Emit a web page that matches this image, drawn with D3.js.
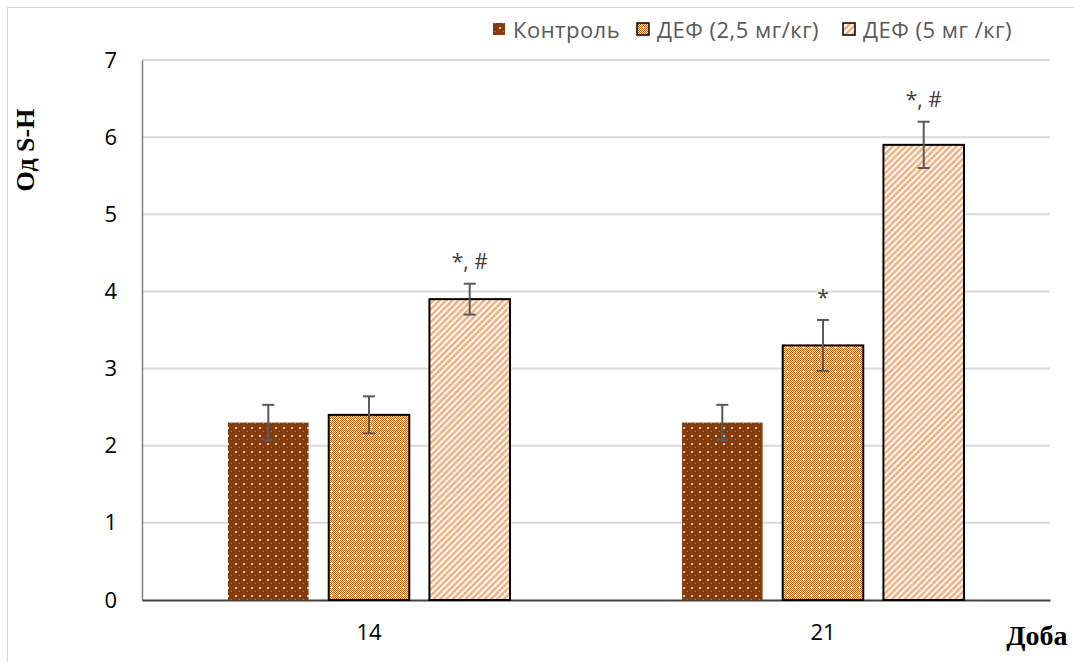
<!DOCTYPE html>
<html><head><meta charset="utf-8">
<script src="https://cdn.jsdelivr.net/npm/d3@7"></script>
<style>body{margin:0;background:#fff}svg{display:block}</style>
</head><body>
<script>
const categories = ["14", "21"];
const seriesNames = ["Контроль", "ДЕФ (2,5 мг/кг)", "ДЕФ (5 мг /кг)"];
const control = [2.3, 2.3];
const def25 = [2.4, 3.3];
const def5 = [3.9, 5.9];
const errControl = [0.23, 0.23];
const errDef25 = [0.24, 0.33];
const errDef5 = [0.2, 0.3];
const notes25 = ["", "*"];
const notes5 = ["*, #", "*, #"];
const yTicks = [0, 1, 2, 3, 4, 5, 6, 7];

const W = 1074, H = 662;
const m = {left: 142, right: 1050, top: 60, bottom: 600};
const svg = d3.select("body").append("svg").attr("width", W).attr("height", H);
const defs = svg.append("defs");

// patterns
const p1 = defs.append("pattern").attr("id", "pCtrl").attr("patternUnits", "userSpaceOnUse")
  .attr("width", 8).attr("height", 8);
p1.append("rect").attr("width", 8).attr("height", 8).attr("fill", "#843C0C");
p1.append("rect").attr("x", 3).attr("y", 3).attr("width", 2).attr("height", 2).attr("fill", "#E3C3AE");
p1.append("rect").attr("x", 7).attr("y", 7).attr("width", 1).attr("height", 1).attr("fill", "#B07858");

const p2 = defs.append("pattern").attr("id", "pDef25").attr("patternUnits", "userSpaceOnUse")
  .attr("width", 8).attr("height", 8);
p2.append("rect").attr("width", 8).attr("height", 8).attr("fill", "#fff");
for (let i = 0; i < 8; i++) for (let j = 0; j < 8; j++) {
  if ((i + j) % 2 === 0) p2.append("rect").attr("x", i).attr("y", j).attr("width", 1).attr("height", 1).attr("fill", "#C55A11");
}
p2.append("rect").attr("x", 2).attr("y", 3).attr("width", 3).attr("height", 1).attr("fill", "#fff");
p2.append("rect").attr("x", 3).attr("y", 2).attr("width", 1).attr("height", 3).attr("fill", "#fff");

const p3 = defs.append("pattern").attr("id", "pDef5").attr("patternUnits", "userSpaceOnUse")
  .attr("width", 4.5).attr("height", 4.5).attr("patternTransform", "rotate(45)");
p3.append("rect").attr("width", 4.5).attr("height", 4.5).attr("fill", "#fff");
p3.append("rect").attr("width", 2.6).attr("height", 4.5).attr("fill", "#F4B183");

// frame
svg.append("rect").attr("x", 7.5).attr("y", 7.5).attr("width", 1100).attr("height", 700)
  .attr("fill", "none").attr("stroke", "#D9D9D9").attr("stroke-width", 1);

const x0 = d3.scaleBand().domain(categories).range([m.left, m.right]).paddingInner(0).paddingOuter(0);
const x1 = d3.scaleBand().domain(seriesNames).range([86, 454 - 86]).paddingInner(0.2).paddingOuter(0);
const y = d3.scaleLinear().domain([0, 7]).range([m.bottom, m.top]);

// gridlines
svg.append("g").selectAll("line").data(yTicks.filter(d => d > 0)).join("line")
  .attr("x1", m.left).attr("x2", m.right)
  .attr("y1", d => y(d)).attr("y2", d => y(d))
  .attr("stroke", "#D9D9D9").attr("stroke-width", 2);

// y axis
const yAxis = svg.append("g").attr("transform", `translate(${m.left},0)`)
  .call(d3.axisLeft(y).tickValues(yTicks).tickFormat(d3.format("d")).tickSize(0).tickPadding(25));
yAxis.select(".domain").attr("stroke", "#7F7F7F").attr("stroke-width", 1.5);
yAxis.selectAll("text").attr("font-family", "Open Sans").attr("font-size", 22).attr("fill", "#000");

// x axis
const xAxis = svg.append("g").attr("transform", `translate(0,${m.bottom})`)
  .call(d3.axisBottom(x0).tickSize(0).tickPadding(24));
xAxis.select(".domain").attr("stroke", "#404040").attr("stroke-width", 2);
xAxis.selectAll("text").attr("font-family", "Open Sans").attr("font-size", 22).attr("fill", "#000");

const series = [
  {name: seriesNames[0], vals: control, errs: errControl, fill: "url(#pCtrl)", stroke: "none", notes: ["", ""]},
  {name: seriesNames[1], vals: def25, errs: errDef25, fill: "url(#pDef25)", stroke: "#000", notes: notes25},
  {name: seriesNames[2], vals: def5, errs: errDef5, fill: "url(#pDef5)", stroke: "#000", notes: notes5}
];

const bars = svg.append("g");
series.forEach(s => {
  categories.forEach((c, i) => {
    const bx = x0(c) + x1(s.name);
    const bw = x1.bandwidth();
    bars.append("rect").attr("x", bx).attr("y", y(s.vals[i]))
      .attr("width", bw).attr("height", y(0) - y(s.vals[i]))
      .attr("fill", s.fill).attr("stroke", s.stroke).attr("stroke-width", 2);
  });
});
// error bars
const eg = svg.append("g").attr("stroke", "#595959").attr("stroke-width", 2);
series.forEach(s => {
  categories.forEach((c, i) => {
    const cx = x0(c) + x1(s.name) + x1.bandwidth() / 2;
    const t = y(s.vals[i] + s.errs[i]), b = y(s.vals[i] - s.errs[i]);
    eg.append("line").attr("x1", cx).attr("x2", cx).attr("y1", t).attr("y2", b);
    eg.append("line").attr("x1", cx - 6).attr("x2", cx + 6).attr("y1", t).attr("y2", t);
    eg.append("line").attr("x1", cx - 6).attr("x2", cx + 6).attr("y1", b).attr("y2", b);
    if (s.notes[i]) {
      svg.append("text").attr("x", cx).attr("y", t - 15).attr("text-anchor", "middle")
        .attr("font-family", "Open Sans").attr("font-size", 21).attr("fill", "#404040")
        .text(s.notes[i]);
    }
  });
});

// axis titles
svg.append("text").attr("transform", "translate(34,150) rotate(-90)").attr("text-anchor", "middle")
  .attr("font-family", "Liberation Serif").attr("font-weight", "bold").attr("font-size", 26)
  .attr("fill", "#000").text("Од S-H");
svg.append("text").attr("x", 1037).attr("y", 645).attr("text-anchor", "middle")
  .attr("font-family", "Liberation Serif").attr("font-weight", "bold").attr("font-size", 28)
  .attr("fill", "#000").text("Доба");

// legend
const legX = [493, 637, 843];
const lg = svg.append("g");
series.forEach((s, i) => {
  lg.append("rect").attr("x", legX[i]).attr("y", 23).attr("width", 12).attr("height", 12)
    .attr("fill", s.fill).attr("stroke", s.stroke === "none" ? "none" : "#000").attr("stroke-width", 1.5);
  lg.append("text").attr("x", legX[i] + 20).attr("y", 38)
    .attr("font-family", "Open Sans").attr("font-size", 22).attr("letter-spacing", 0.5)
    .attr("fill", "#595959").text(s.name);
});
</script>
</body></html>
